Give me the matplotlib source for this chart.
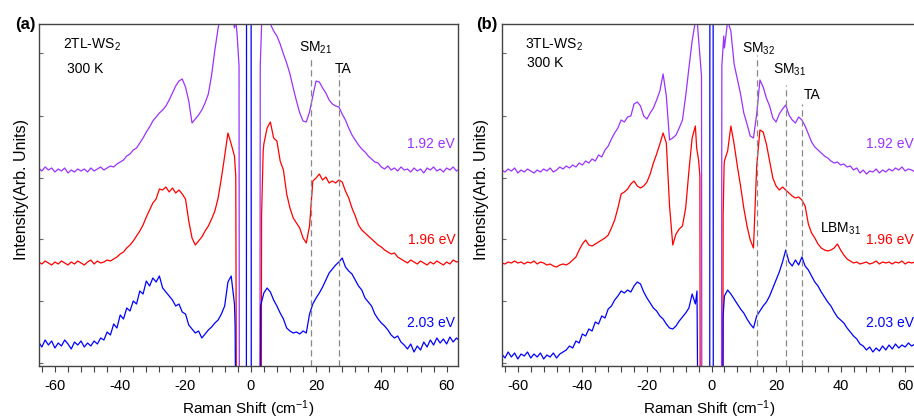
import numpy as np
import matplotlib
matplotlib.use("Agg")
import matplotlib.pyplot as plt

plt.rcParams['font.family'] = ['Liberation Sans', 'DejaVu Sans']
plt.rcParams['axes.unicode_minus'] = False
plt.rcParams['mathtext.fontset'] = 'custom'
plt.rcParams['mathtext.rm'] = 'Liberation Sans'
plt.rcParams['mathtext.it'] = 'Liberation Sans'

# ---------------- data (Raman shift in cm^-1, intensity in arb. units) ----------------
x_left = np.arange(-65, -4)   # -65 ... -5
x_right = np.arange(4, 65)    # 4 ... 64

# Panel (a) 2TL-WS2
a_192_left = [198, 195, 199, 196, 198, 194, 197, 195, 198, 193, 196, 194, 197, 195, 197, 194, 198, 195, 197, 199,
              196, 198, 200, 199, 202, 204, 206, 210, 212, 216, 218, 223, 228, 234, 239, 245, 249, 253, 256, 260,
              266, 273, 280, 285, 287, 279, 265, 243, 247, 251, 256, 263, 272, 291, 316, 338, 355, 362, 365, 360, 338]
a_192_notch_x = [-4.6, -4.2, -3.6, -3.5, 2.8, 2.9, 3.5]
a_192_notch_y = [346, 332, 300, -60, -60, 300, 360]
a_192_right = [365, 350, 342, 335, 330, 322, 312, 303, 292, 278, 265, 253, 245, 244, 254, 270, 285, 284, 278, 273,
               266, 262, 260, 259, 252, 246, 238, 231, 226, 221, 217, 214, 210, 207, 204, 203, 199, 197, 200, 196,
               198, 195, 199, 196, 197, 194, 198, 195, 197, 193, 198, 196, 199, 195, 197, 194, 198, 196, 199, 195, 197]

a_196_left = [104, 102, 105, 103, 101, 104, 102, 105, 103, 101, 104, 102, 105, 103, 101, 104, 106, 102, 105, 103,
              104, 106, 105, 107, 109, 112, 114, 118, 121, 125, 130, 135, 141, 149, 156, 163, 167, 177, 176, 179,
              174, 178, 173, 176, 172, 167, 145, 128, 121, 125, 129, 135, 140, 147, 155, 168, 188, 210, 233, 222, 210]
a_196_notch_x = [-4.6, -4.4, 3.2, 3.3, 3.8]
a_196_notch_y = [190, -60, -60, 150, 215]
a_196_right = [222, 238, 244, 228, 225, 205, 196, 172, 158, 148, 143, 138, 128, 123, 140, 185, 188, 192, 186, 189,
               183, 185, 183, 186, 184, 175, 168, 158, 150, 141, 136, 133, 130, 127, 124, 121, 119, 116, 114, 112,
               113, 109, 107, 105, 103, 106, 104, 102, 105, 103, 101, 104, 102, 105, 103, 101, 104, 102, 106, 104, 105]

a_203_left = [24, 19, 26, 21, 25, 18, 23, 20, 26, 22, 17, 24, 21, 25, 19, 23, 20, 25, 22, 28,
              26, 34, 31, 42, 38, 51, 47, 58, 55, 65, 62, 75, 72, 85, 80, 88, 84, 90, 78, 74,
              70, 66, 60, 62, 54, 52, 41, 37, 33, 35, 28, 32, 36, 39, 43, 46, 52, 60, 84, 90, 62]
a_203_notch_x = [-4.8, -4.6, -1.35, -1.3, 0.1, 0.15, 2.9, 3.0]
a_203_notch_y = [40, -60, -60, 400, 400, -60, -60, 60]
a_203_right = [73, 78, 74, 66, 60, 53, 47, 38, 35, 33, 34, 32, 35, 33, 52, 62, 68, 73, 79, 86,
               93, 97, 101, 104, 108, 99, 95, 92, 86, 80, 76, 68, 64, 60, 52, 47, 43, 40, 36, 31,
               28, 30, 24, 21, 17, 22, 14, 20, 16, 24, 19, 26, 21, 28, 23, 27, 22, 29, 24, 28, 25]

# Panel (b) 3TL-WS2
b_192_left = [196, 194, 197, 195, 198, 193, 196, 194, 197, 195, 193, 196, 194, 197, 195, 198, 194, 196, 199, 197,
              200, 198, 201, 199, 203, 201, 205, 203, 207, 205, 211, 209, 216, 220, 227, 233, 238, 246, 244, 249,
              250, 262, 264, 260, 250, 247, 253, 258, 266, 275, 292, 270, 226, 228, 231, 238, 246, 270, 298, 325, 345]
b_192_notch_x = [-4.5, -4.2, -3.1, -3.0, 3.1, 3.2, 3.8]
b_192_notch_y = [350, 335, 290, -60, -60, 300, 330]
b_192_right = [318, 345, 335, 302, 287, 272, 253, 242, 230, 228, 252, 286, 279, 268, 260, 248, 244, 252, 257, 261,
               251, 246, 243, 249, 246, 240, 232, 224, 219, 216, 213, 210, 208, 205, 203, 204, 201, 202, 199, 200,
               196, 198, 193, 196, 192, 195, 194, 197, 193, 196, 194, 197, 195, 198, 196, 199, 195, 197, 196, 194, 196]

b_196_left = [103, 102, 104, 103, 105, 103, 104, 102, 104, 103, 105, 102, 104, 103, 101, 102, 100, 99, 101, 102,
              101, 103, 106, 109, 116, 122, 126, 121, 120, 122, 124, 126, 128, 131, 138, 146, 158, 172, 174, 177,
              182, 185, 180, 178, 180, 184, 192, 203, 212, 222, 233, 223, 160, 121, 132, 137, 140, 158, 195, 228, 240]
b_196_notch_x = [-4.6, -4.0, -3.6, -3.5, 3.5, 3.6, 3.9]
b_196_notch_y = [218, 206, 190, -60, -60, 150, 200]
b_196_right = [205, 215, 240, 222, 200, 180, 158, 140, 126, 118, 200, 236, 234, 222, 205, 188, 180, 176, 179, 176,
               173, 170, 168, 169, 166, 160, 142, 133, 128, 122, 118, 116, 115, 116, 118, 122, 116, 111, 107, 105,
               103, 104, 102, 103, 104, 102, 103, 105, 102, 104, 103, 104, 102, 104, 103, 105, 102, 104, 103, 104, 103]

b_203_left = [12, 8, 14, 9, 13, 7, 12, 10, 14, 8, 12, 9, 13, 7, 11, 9, 13, 8, 12, 14,
              16, 20, 18, 25, 23, 32, 30, 37, 35, 44, 42, 50, 48, 57, 60, 66, 70, 75, 73, 76,
              74, 80, 84, 82, 74, 68, 63, 58, 55, 50, 47, 42, 38, 37, 40, 45, 49, 53, 58, 72, 62]
b_203_notch_x = [-4.5, -4.2, -0.55, -0.5, 0.5, 0.55, 3.5, 3.6]
b_203_notch_y = [75, -60, -60, 400, 400, -60, -60, 50]
b_203_right = [70, 76, 72, 67, 62, 57, 53, 47, 42, 38, 50, 55, 60, 64, 70, 78, 86, 94, 104, 116,
               104, 100, 106, 101, 109, 100, 96, 90, 84, 80, 74, 69, 64, 60, 54, 49, 46, 43, 38, 34,
               30, 27, 22, 20, 16, 19, 14, 18, 15, 20, 16, 21, 17, 22, 18, 21, 19, 23, 20, 22, 21]

energies = ["1.92 eV", "1.96 eV", "2.03 eV"]
colors = ["#9933FF", "#FF0000", "#0000FF"]

panel_a = [(a_192_left, a_192_notch_x, a_192_notch_y, a_192_right),
           (a_196_left, a_196_notch_x, a_196_notch_y, a_196_right),
           (a_203_left, a_203_notch_x, a_203_notch_y, a_203_right)]
panel_b = [(b_192_left, b_192_notch_x, b_192_notch_y, b_192_right),
           (b_196_left, b_196_notch_x, b_196_notch_y, b_196_right),
           (b_203_left, b_203_notch_x, b_203_notch_y, b_203_right)]

label_y = [222, 126, 43]
a_dashes = [(18.4, 307), (27.1, 291)]
b_dashes = [(14.0, 311), (23.1, 281), (27.9, 262)]

# ---------------- figure ----------------
W, H = 914, 420
fig = plt.figure(figsize=(W / 100, H / 100), dpi=100)

def px_axes(left, right, top, bottom):
    return [left / W, (H - bottom) / H, (right - left) / W, (bottom - top) / H]

axa = fig.add_axes(px_axes(38.6, 458.4, 24, 366))
axb = fig.add_axes(px_axes(501.7, 916.8, 24, 366))

def style(ax):
    ax.set_xlim(-65, 63.6)
    ax.set_ylim(0, 342)
    for s in ax.spines.values():
        s.set_color('#444444')
        s.set_linewidth(1.0)
    ax.set_xticks(np.arange(-64, 64, 4), minor=True)
    ax.set_xticks([-60, -40, -20, 0, 20, 40, 60])
    ax.tick_params(axis='x', which='both', direction='out', length=4, width=0.8, color='#444444',
                   labelsize=10.5, pad=5)
    ax.set_yticks([3, 65, 127, 188, 250, 313])
    ax.tick_params(axis='y', which='both', direction='in', length=3, width=0.8, color='#666666',
                   labelleft=False)
    ax.set_xlabel('Raman Shift (cm$^{-1}$)', fontsize=11, labelpad=4)

for ax, data, dashes in [(axa, panel_a, a_dashes), (axb, panel_b, b_dashes)]:
    style(ax)
    for (left, nx, ny, right), c, lab, ly in zip(data, colors, energies, label_y):
        x = np.concatenate([x_left, nx, x_right])
        y = np.concatenate([left, ny, right])
        ax.plot(x, y, color=c, lw=0.9)
        ax.text(62.6, ly, lab, color=c, fontsize=10, ha='right', va='center')
    for xd, ytop in dashes:
        ax.plot([xd, xd], [0, ytop], color='#888888', lw=0.9, ls=(0, (5, 3)))

# annotations panel (a)
axa.text(-57.6, 321, '2TL-WS$_2$', fontsize=10, ha='left', va='center')
axa.text(-56.3, 297, '300 K', fontsize=10, ha='left', va='center')
axa.text(20.0, 318, 'SM$_{21}$', fontsize=10, ha='center', va='center')
axa.text(28.2, 297, 'TA', fontsize=10, ha='center', va='center')

# annotations panel (b)
axb.text(-57.8, 321, '3TL-WS$_2$', fontsize=10, ha='left', va='center')
axb.text(-57.2, 303, '300 K', fontsize=10, ha='left', va='center')
axb.text(14.7, 317, 'SM$_{32}$', fontsize=10, ha='center', va='center')
axb.text(24.3, 296, 'SM$_{31}$', fontsize=10, ha='center', va='center')
axb.text(31.1, 271, 'TA', fontsize=10, ha='center', va='center')
axb.text(40.1, 137, 'LBM$_{31}$', fontsize=10, ha='center', va='center')

# panel letters and y labels
fig.text(25 / W, (H - 25) / H, '(a)', fontsize=12, fontweight='bold', ha='center', va='center')
fig.text(487 / W, (H - 25) / H, '(b)', fontsize=12, fontweight='bold', ha='center', va='center')
fig.text(22 / W, (H - 190) / H, 'Intensity(Arb. Units)', rotation=90, fontsize=11.5, ha='center', va='center')
fig.text(481 / W, (H - 190) / H, 'Intensity(Arb. Units)', rotation=90, fontsize=11.5, ha='center', va='center')

fig.savefig('out.png', dpi=100)
